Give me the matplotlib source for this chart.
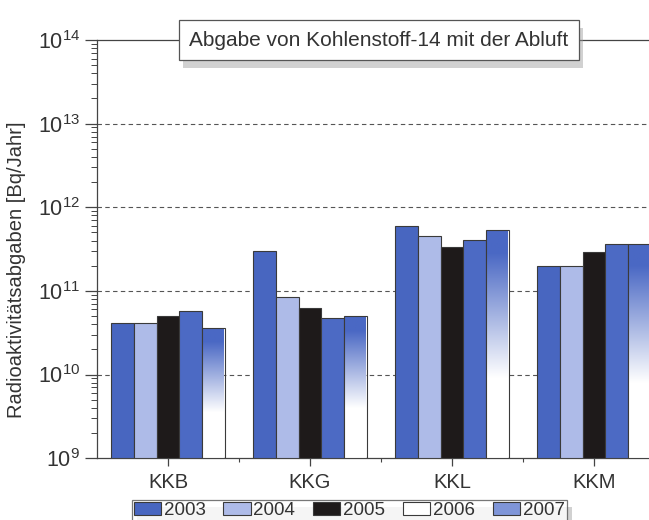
import numpy as np
import matplotlib
matplotlib.use("Agg")
import matplotlib.pyplot as plt
from matplotlib.patches import Patch
from matplotlib.transforms import blended_transform_factory
from matplotlib.ticker import LogLocator, FixedLocator, NullFormatter
import matplotlib.patheffects as pe

plt.rcParams['font.family'] = ['Liberation Sans', 'DejaVu Sans']
plt.rcParams['mathtext.fontset'] = 'custom'
plt.rcParams['mathtext.rm'] = 'Liberation Sans'
plt.rcParams['mathtext.it'] = 'Liberation Sans'

# data (Bq/Jahr)
plants = ['KKB', 'KKG', 'KKL', 'KKM']
years = ['2003', '2004', '2005', '2006', '2007']
v2003 = [4.0e10, 3.0e11, 6.0e11, 1.95e11]
v2004 = [4.0e10, 8.3e10, 4.5e11, 1.95e11]
v2005 = [4.9e10, 6.2e10, 3.3e11, 2.9e11]
v2006 = [5.6e10, 4.6e10, 4.0e11, 3.6e11]
v2007 = [3.5e10, 4.9e10, 5.3e11, 3.6e11]
series = [v2003, v2004, v2005, v2006, v2007]

blue = '#4866c0'
lightblue = '#aebbe8'
black = '#1e1a1a'
bar_colors = [blue, lightblue, black, '#4c6ac4', None]  # None -> gradient
legend_colors = [blue, lightblue, black, 'white', '#7f95d8']
edge = '#3a3a3a'
txt = '#333333'

fig = plt.figure(figsize=(6.49, 5.2), dpi=100)
ax = fig.add_axes([0.1495, 0.119, 0.875, 0.804])
ax.set_yscale('log')
ax.set_ylim(1e9, 1e14)
ax.set_xlim(-0.5, 3.5)

x = np.arange(len(plants))
w = 0.16
trans = blended_transform_factory(ax.transData, ax.transAxes)

# gradient image: blue at top fading to white
n = 256
t = np.linspace(0, 1, n)
a = np.clip((0.65 - t) / 0.55, 0, 1)
rgb = np.array(matplotlib.colors.to_rgb('#4a68c4'))
img = np.ones((n, 1, 3)) * (1 - a[:, None, None]) + rgb[None, None, :] * a[:, None, None]

for i, vals in enumerate(series):
    xs = x + (i - 2) * w
    if bar_colors[i] is not None:
        ax.bar(xs, vals, width=w, bottom=1e9, color=bar_colors[i],
               edgecolor=edge, linewidth=0.8, zorder=3)
    else:
        ax.bar(xs, vals, width=w, bottom=1e9, facecolor='none',
               edgecolor=edge, linewidth=0.8, zorder=4)
        for xi, v in zip(xs, vals):
            top = (np.log10(v) - 9) / 5
            ax.imshow(img, extent=[xi - w / 2, xi + w / 2, 0, top],
                      transform=trans, aspect='auto', zorder=3,
                      interpolation='bilinear')

ax.set_xlim(-0.5, 3.5)
ax.set_ylim(1e9, 1e14)

# grid
for k in range(10, 14):
    ax.axhline(10.0 ** k, color='#555555', lw=0.8, ls=(0, (4, 3)), zorder=1)

ax.spines['right'].set_visible(False)
for s in ['left', 'bottom', 'top']:
    ax.spines[s].set_color('#444444')
    ax.spines[s].set_linewidth(0.9)

ax.yaxis.set_major_locator(FixedLocator([10.0 ** k for k in range(9, 15)]))
ax.set_yticklabels(['$10^{%d}$' % k for k in range(9, 15)])
ax.yaxis.set_minor_locator(LogLocator(base=10, subs=np.arange(2, 10)))
ax.yaxis.set_minor_formatter(NullFormatter())
ax.tick_params(axis='y', which='major', length=9, width=0.9, color='#444444',
               labelsize=15.5, labelcolor=txt, pad=3)
ax.tick_params(axis='y', which='minor', length=4, width=0.7, color='#444444')

ax.set_xticks(x)
ax.set_xticklabels(plants)
ax.set_xticks([0.5, 1.5, 2.5], minor=True)
ax.tick_params(axis='x', which='major', length=6, width=0.9, color='#444444',
               labelsize=14.5, labelcolor=txt, pad=5)
ax.tick_params(axis='x', which='minor', length=3, width=0.8, color='#444444')

ax.set_ylabel('Radioaktivitätsabgaben [Bq/Jahr]', fontsize=14.5, color=txt)
ax.yaxis.set_label_coords(-0.125, 0.45)

title = ax.text(0.4965, 1.0, 'Abgabe von Kohlenstoff-14 mit der Abluft',
                transform=ax.transAxes, ha='center', va='center', fontsize=15,
                color=txt, zorder=10,
                bbox=dict(boxstyle='square,pad=0.5', facecolor='white',
                          edgecolor='#555555', linewidth=0.9))
title.get_bbox_patch().set_path_effects(
    [pe.SimplePatchShadow(offset=(3, -6), shadow_rgbFace='#999999', alpha=0.45), pe.Normal()])

handles = [Patch(facecolor=c, edgecolor=edge, linewidth=0.8) for c in legend_colors]
leg = fig.legend(handles, years, loc='upper center', bbox_to_anchor=(0.538, 0.0385),
                 borderaxespad=0, ncol=5, frameon=True, fancybox=False, fontsize=13.5,
                 handlelength=1.45, handleheight=0.7, handletextpad=0.15,
                 columnspacing=0.95, borderpad=0.1, labelcolor=txt)
leg.get_frame().set_edgecolor('#555555')
leg.get_frame().set_linewidth(0.9)
leg.get_frame().set_path_effects(
    [pe.SimplePatchShadow(offset=(4, -5), shadow_rgbFace='#999999', alpha=0.45), pe.Normal()])

fig.savefig('out.png', dpi=100)
